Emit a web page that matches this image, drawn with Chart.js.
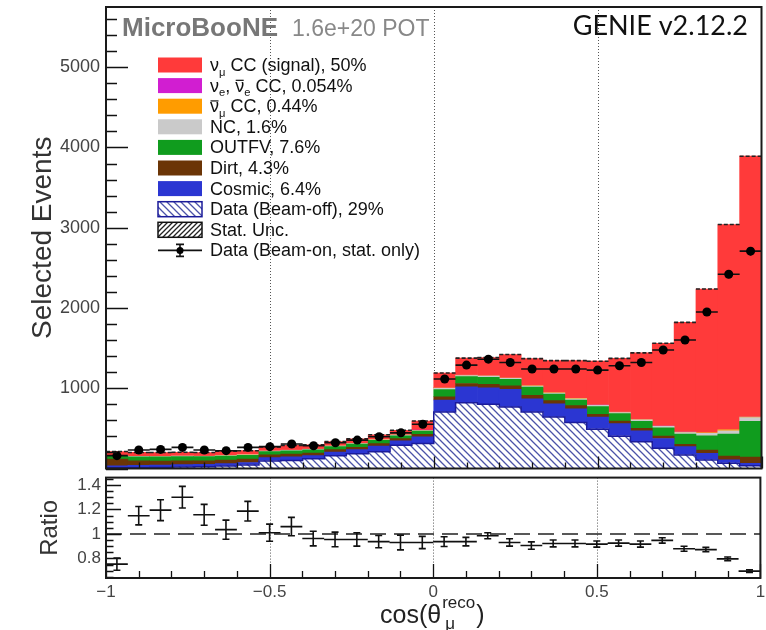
<!DOCTYPE html>
<html>
<head>
<meta charset="utf-8">
<title>cos theta mu reco</title>
<script src="https://cdn.jsdelivr.net/npm/chart.js@4.4.1/dist/chart.umd.min.js"></script>
<style>
  body { margin: 0; background: #fff; }
  .pane { position: absolute; left: 0; }
</style>
</head>
<body>
<canvas id="main" class="pane" width="766" height="473" style="top:0"></canvas>
<canvas id="ratio" class="pane" width="766" height="158" style="top:472px"></canvas>
<script>
// Selected events vs reconstructed cos(theta_mu), stacked prediction + beam-on data

const binEdges = [-1, -0.9333, -0.8667, -0.8, -0.7333, -0.6667, -0.6, -0.5333, -0.4667, -0.4, -0.3333,
  -0.2667, -0.2, -0.1333, -0.0667, 0, 0.0667, 0.1333, 0.2, 0.2667, 0.3333, 0.4, 0.4667, 0.5333,
  0.6, 0.6667, 0.7333, 0.8, 0.8667, 0.9333, 1];
const countTicks = [1000, 2000, 3000, 4000, 5000];
const ratioTicks = [0.8, 1, 1.2, 1.4];
const cosTicks = [-1, -0.5, 0, 0.5, 1];
const gridCos = [-0.5, 0, 0.5];

// stack, bottom to top
const beamOff = [8, 10, 12, 18, 22, 30, 45, 95, 100, 120, 160, 185, 210, 290, 310,
  704, 819, 800, 765, 704, 642, 572, 490, 403, 333, 251, 169, 107, 66, 33];
const cosmic = [25, 30, 30, 30, 30, 30, 30, 40, 45, 40, 45, 50, 70, 55, 85,
  150, 200, 205, 220, 164, 164, 173, 150, 157, 136, 123, 103, 82, 41, 30];
const dirt = [85, 55, 50, 48, 45, 45, 42, 35, 35, 32, 30, 30, 30, 28, 30,
  40, 40, 45, 45, 45, 40, 38, 35, 30, 30, 30, 30, 41, 49, 80];
const outFV = [35, 50, 52, 52, 50, 50, 48, 40, 40, 40, 38, 38, 40, 35, 40,
  90, 85, 85, 80, 100, 80, 70, 95, 93, 89, 102, 126, 177, 272, 445];
const nc = [6, 6, 6, 6, 6, 6, 6, 6, 7, 7, 7, 8, 8, 8, 9,
  15, 15, 15, 15, 15, 15, 15, 16, 15, 17, 18, 20, 30, 41, 46];
const numuBar = [2, 2, 2, 2, 2, 2, 2, 2, 2, 2, 2, 2, 3, 3, 3,
  5, 5, 5, 5, 5, 5, 5, 5, 5, 6, 6, 7, 10, 17, 10];
const nueCC = [0, 0, 0, 0, 0, 0, 0, 0, 0, 0, 0, 0, 0, 0, 1,
  1, 1, 1, 1, 1, 1, 1, 1, 1, 1, 1, 1, 1, 1, 2];
const numuCC = [51, 47, 47, 46, 44, 51, 49, 51, 59, 54, 54, 58, 60, 58, 114,
  185, 210, 227, 289, 335, 397, 470, 545, 668, 829, 1029, 1365, 1788, 2553, 3245];

// beam-on data
const dataOn = [160, 230, 238, 263, 230, 222, 263, 272, 305, 284, 321, 354, 395, 444, 551,
  1115, 1288, 1362, 1321, 1239, 1239, 1239, 1226, 1280, 1321, 1477, 1601, 1950, 2420, 2708];
const dataOnErr = [13, 15, 15, 16, 15, 15, 16, 17, 18, 17, 18, 19, 20, 21, 24,
  34, 36, 37, 37, 36, 36, 36, 36, 36, 37, 39, 40, 45, 50, 53];

// data / prediction
const ratio = [0.753, 1.149, 1.194, 1.30, 1.156, 1.035, 1.186, 1.01, 1.06, 0.962, 0.955, 0.955, 0.937, 0.93, 0.93,
  0.937, 0.937, 0.985, 0.93, 0.905, 0.922, 0.922, 0.917, 0.925, 0.917, 0.947, 0.879, 0.872, 0.796, 0.696];
const ratioErr = [0.05, 0.075, 0.085, 0.088, 0.085, 0.078, 0.08, 0.07, 0.075, 0.06, 0.06, 0.055, 0.05, 0.06, 0.05,
  0.04, 0.035, 0.025, 0.03, 0.03, 0.028, 0.028, 0.025, 0.025, 0.025, 0.022, 0.02, 0.018, 0.015, 0.01];

const FONT = '"Liberation Sans", Arial, Helvetica, sans-serif';
const COLORS = {
  numuCC: '#ff3a3a',
  nueCC: '#d11ed1',
  numuBar: '#ff9c00',
  nc: '#cacaca',
  outFV: '#109c1e',
  dirt: '#6b3506',
  cosmic: '#2b36d2',
  hatch: '#4b53a8',
  beamOffLine: '#1b1b9a'
};

Chart.defaults.font.family = FONT;
Chart.defaults.animation = false;

const binLo = binEdges.slice(0, -1);
const binHi = binEdges.slice(1);
const binMid = binLo.map((lo, i) => (lo + binHi[i]) / 2);
const stackParts = [beamOff, cosmic, dirt, outFV, nc, numuBar, nueCC, numuCC];
const mcTotal = binMid.map((_, i) => stackParts.reduce((s, arr) => s + arr[i], 0));

function hatch(color, down, size) {
  const c = document.createElement('canvas');
  c.width = size; c.height = size;
  const g = c.getContext('2d');
  g.fillStyle = '#fff';
  g.fillRect(0, 0, size, size);
  g.strokeStyle = color;
  g.lineWidth = 1.3;
  g.beginPath();
  for (let k = -1; k <= 1; k++) {
    if (down) { g.moveTo(k * size - 1, -1); g.lineTo(k * size + size + 1, size + 1); }
    else { g.moveTo(k * size - 1, size + 1); g.lineTo(k * size + size + 1, -1); }
  }
  g.stroke();
  return g.createPattern(c, 'repeat');
}
const beamOffFill = hatch(COLORS.hatch, true, 7);
const statFill = hatch('#222', false, 5);

// line helpers: steps, flat segments and vertical error segments
function stepLine(vals) {
  const pts = [];
  vals.forEach((v, i) => pts.push({ x: binLo[i], y: v }, { x: binHi[i], y: v }));
  return pts;
}
function flatBars(vals) {
  const pts = [];
  vals.forEach((v, i) => pts.push({ x: binLo[i], y: v }, { x: binHi[i], y: v }, { x: binHi[i], y: null }));
  return pts;
}
function vBars(vals, errs) {
  const pts = [];
  vals.forEach((v, i) => pts.push({ x: binMid[i], y: v - errs[i] }, { x: binMid[i], y: v + errs[i] }, { x: binMid[i], y: null }));
  return pts;
}

const rootFrame = {
  id: 'rootFrame',
  beforeDatasetsDraw(chart) {
    const { ctx, chartArea: a } = chart;
    const xs = chart.scales.xl;
    ctx.save();
    ctx.strokeStyle = '#555';
    ctx.lineWidth = 1;
    ctx.setLineDash([1, 2]);
    gridCos.forEach(v => {
      const px = Math.round(xs.getPixelForValue(v)) + 0.5;
      ctx.beginPath();
      ctx.moveTo(px, a.top);
      ctx.lineTo(px, a.bottom);
      ctx.stroke();
    });
    ctx.restore();
  },
  afterDatasetsDraw(chart, args, o) {
    const { ctx, chartArea: a } = chart;
    const xs = chart.scales.xl, ys = chart.scales[o.yId];
    const each = (min, max, minor, major, fn) => {
      for (let k = Math.ceil(min / minor - 1e-9); k * minor <= max + 1e-9; k++) {
        const v = k * minor, r = v / major;
        fn(v, Math.abs(r - Math.round(r)) < 1e-6);
      }
    };
    ctx.save();
    ctx.strokeStyle = '#111';
    ctx.lineWidth = 1.3;
    ctx.beginPath();
    each(ys.min, ys.max, o.yMinor, o.yMajor, (v, big) => {
      const py = Math.round(ys.getPixelForValue(v)) + 0.5;
      ctx.moveTo(a.left, py);
      ctx.lineTo(a.left + (big ? o.yLen : o.yLen / 2), py);
    });
    each(-1, 1, 0.1, 0.5, (v, big) => {
      const px = Math.round(xs.getPixelForValue(v)) + 0.5;
      ctx.moveTo(px, a.bottom);
      ctx.lineTo(px, a.bottom - (big ? o.xLen : o.xLen / 2));
    });
    ctx.stroke();
    ctx.lineWidth = 2;
    ctx.strokeStyle = '#1a1a1a';
    ctx.strokeRect(a.left, a.top, a.right - a.left, a.bottom - a.top);
    ctx.restore();
  }
};

function drawRich(ctx, x, y, parts, size) {
  parts.forEach(([t, kind]) => {
    const s = kind === 'sub' ? size * 0.62 : size;
    ctx.font = s + 'px ' + FONT;
    const w = ctx.measureText(t).width;
    ctx.fillText(t, x, kind === 'sub' ? y + size * 0.25 : y);
    if (kind === 'bar') ctx.fillRect(x + 0.5, y - size * 0.66, w - 1, 1.2);
    x += w;
  });
  return x;
}

const legendRows = [
  { kind: 'fill', color: COLORS.numuCC, text: [['ν'], ['μ', 'sub'], [' CC (signal), 50%']] },
  { kind: 'fill', color: COLORS.nueCC, text: [['ν'], ['e', 'sub'], [', '], ['ν', 'bar'], ['e', 'sub'], [' CC, 0.054%']] },
  { kind: 'fill', color: COLORS.numuBar, text: [['ν', 'bar'], ['μ', 'sub'], [' CC, 0.44%']] },
  { kind: 'fill', color: COLORS.nc, text: [['NC, 1.6%']] },
  { kind: 'fill', color: COLORS.outFV, text: [['OUTFV, 7.6%']] },
  { kind: 'fill', color: COLORS.dirt, text: [['Dirt, 4.3%']] },
  { kind: 'fill', color: COLORS.cosmic, text: [['Cosmic, 6.4%']] },
  { kind: 'beamoff', text: [['Data (Beam-off), 29%']] },
  { kind: 'stat', text: [['Stat. Unc.']] },
  { kind: 'data', text: [['Data (Beam-on, stat. only)']] }
];

const mainLabels = {
  id: 'mainLabels',
  afterDraw(chart) {
    const ctx = chart.ctx;
    ctx.save();
    ctx.textBaseline = 'alphabetic';
    ctx.font = 'bold 26px ' + FONT;
    ctx.fillStyle = '#777';
    ctx.fillText('MicroBooNE', 122, 36);
    ctx.font = '23px ' + FONT;
    ctx.fillStyle = '#888';
    ctx.fillText('1.6e+20 POT', 292, 36);
    ctx.font = '27px Lato, ' + FONT;
    ctx.fillStyle = '#111';
    ctx.textAlign = 'right';
    ctx.fillText('GENIE v2.12.2', 748, 35);
    ctx.textAlign = 'left';

    const bx = 158, bw = 44, bh = 15;
    legendRows.forEach((row, i) => {
      const cy = 65 + i * 20.6;
      if (row.kind === 'fill') {
        ctx.fillStyle = row.color;
        ctx.fillRect(bx, cy - bh / 2, bw, bh);
      } else if (row.kind === 'beamoff' || row.kind === 'stat') {
        ctx.fillStyle = row.kind === 'beamoff' ? beamOffFill : statFill;
        ctx.fillRect(bx, cy - bh / 2, bw, bh);
        ctx.strokeStyle = row.kind === 'beamoff' ? COLORS.beamOffLine : '#111';
        ctx.lineWidth = 1.5;
        ctx.strokeRect(bx, cy - bh / 2, bw, bh);
      } else {
        ctx.strokeStyle = '#111';
        ctx.lineWidth = 1.6;
        ctx.beginPath();
        ctx.moveTo(bx, cy); ctx.lineTo(bx + bw, cy);
        ctx.moveTo(bx + bw / 2, cy - 6); ctx.lineTo(bx + bw / 2, cy + 6);
        ctx.moveTo(bx + bw / 2 - 4, cy - 6); ctx.lineTo(bx + bw / 2 + 4, cy - 6);
        ctx.moveTo(bx + bw / 2 - 4, cy + 6); ctx.lineTo(bx + bw / 2 + 4, cy + 6);
        ctx.stroke();
        ctx.fillStyle = '#000';
        ctx.beginPath();
        ctx.arc(bx + bw / 2, cy, 3.5, 0, Math.PI * 2);
        ctx.fill();
      }
      ctx.fillStyle = '#111';
      drawRich(ctx, 210, cy + 6, row.text, 18);
    });
    ctx.restore();
  }
};

const ratioLabels = {
  id: 'ratioLabels',
  afterDraw(chart) {
    const ctx = chart.ctx;
    ctx.save();
    ctx.fillStyle = '#222';
    ctx.textBaseline = 'alphabetic';
    ctx.font = '25px ' + FONT;
    ctx.fillText('cos(θ', 380, 151);
    let x = 380 + ctx.measureText('cos(θ').width + 1;
    ctx.font = '17px ' + FONT;
    ctx.fillText('reco', x, 136);
    const supW = ctx.measureText('reco').width;
    ctx.fillText('μ', x + 3, 157);
    ctx.font = '25px ' + FONT;
    ctx.fillText(')', x + supW + 1, 151);
    ctx.restore();
  }
};

// grouped: false keeps every bar at the full bin width, stacking still adds them up
const bar = (label, values, color) => ({
  label, data: values, backgroundColor: color, borderWidth: 0, xAxisID: 'x', yAxisID: 'y',
  stack: 'mc', grouped: false, barPercentage: 1, categoryPercentage: 1, order: 1
});
const line = (label, data, extra) => Object.assign({
  type: 'line', label, data, xAxisID: 'xl', yAxisID: 'yv',
  pointRadius: 0, borderWidth: 1.6, borderColor: '#111', fill: false, spanGaps: false
}, extra);

const yMax = 5750;

new Chart(document.getElementById('main'), {
  type: 'bar',
  data: {
    labels: binMid.map(v => v.toFixed(3)),
    datasets: [
      bar('Data (Beam-off)', beamOff, beamOffFill),
      bar('Cosmic', cosmic, COLORS.cosmic),
      bar('Dirt', dirt, COLORS.dirt),
      bar('OUTFV', outFV, COLORS.outFV),
      bar('NC', nc, COLORS.nc),
      bar('anti-numu CC', numuBar, COLORS.numuBar),
      bar('nue CC', nueCC, COLORS.nueCC),
      bar('numu CC', numuCC, COLORS.numuCC),
      line('beam-off outline', stepLine(beamOff), { borderColor: COLORS.beamOffLine, borderWidth: 1.5, order: 0 }),
      line('Stat. Unc.', flatBars(mcTotal), { borderColor: '#222', borderWidth: 1.6, borderDash: [4, 2], order: 0 }),
      line('data x-err', flatBars(dataOn), { order: -1 }),
      line('data y-err', vBars(dataOn, dataOnErr), { order: -1 }),
      line('Data (Beam-on)', dataOn.map((v, i) => ({ x: binMid[i], y: v })), {
        showLine: false, pointRadius: 4.5, pointBackgroundColor: '#000', pointBorderWidth: 0, order: -2
      })
    ]
  },
  options: {
    responsive: false,
    events: [],
    layout: { padding: { left: 0, right: 2, top: 7, bottom: 1 } },
    plugins: {
      legend: { display: false },
      tooltip: { enabled: false },
      rootFrame: { yId: 'y', yMajor: 1000, yMinor: 200, yLen: 22, xLen: 12 }
    },
    scales: {
      x: { display: false, stacked: true, offset: true },
      y: {
        stacked: true, min: 0, max: yMax,
        afterBuildTicks: s => { s.ticks = countTicks.map(v => ({ value: v })); },
        afterFit: s => { s.width = 106; s.paddingTop = 0; s.paddingBottom = 0; },
        grid: { display: false, drawTicks: false },
        border: { display: false },
        ticks: { padding: 6, color: '#444', font: { size: 18 }, callback: v => String(v) },
        title: { display: true, text: 'Selected Events', color: '#333', font: { size: 28 }, padding: { top: 26, bottom: 0 } }
      },
      xl: { type: 'linear', display: false, offset: false, min: -1, max: 1, grid: { offset: false } },
      yv: { display: false, min: 0, max: yMax }
    }
  },
  plugins: [rootFrame, mainLabels]
});

new Chart(document.getElementById('ratio'), {
  type: 'line',
  data: {
    datasets: [
      { label: 'unity', data: [{ x: -1, y: 1 }, { x: 1, y: 1 }], xAxisID: 'xl', yAxisID: 'y',
        borderColor: '#222', borderWidth: 1.5, borderDash: [16, 8], pointRadius: 0, order: 1 },
      { label: 'ratio x-err', data: flatBars(ratio), xAxisID: 'xl', yAxisID: 'y',
        borderColor: '#111', borderWidth: 1.6, pointRadius: 0, spanGaps: false, order: 0 },
      { label: 'ratio y-err', data: vBars(ratio, ratioErr), xAxisID: 'xl', yAxisID: 'y',
        borderColor: '#111', borderWidth: 1.6, pointRadius: 0, spanGaps: false, order: 0 },
      { label: 'ratio caps', data: ratio.flatMap((v, i) => [{ x: binMid[i], y: v - ratioErr[i] }, { x: binMid[i], y: v + ratioErr[i] }]),
        xAxisID: 'xl', yAxisID: 'y', showLine: false, pointStyle: 'line', pointRadius: 3.5,
        pointBorderColor: '#111', pointBorderWidth: 1.6, order: 0 }
    ]
  },
  options: {
    responsive: false,
    events: [],
    layout: { padding: { left: 0, right: 2, top: 0, bottom: 0 } },
    plugins: {
      legend: { display: false },
      tooltip: { enabled: false },
      rootFrame: { yId: 'y', yMajor: 0.2, yMinor: 0.05, yLen: 15, xLen: 14 }
    },
    scales: {
      xl: {
        type: 'linear', min: -1, max: 1,
        afterBuildTicks: s => { s.ticks = cosTicks.map(v => ({ value: v })); },
        afterFit: s => { s.height = 52; s.paddingLeft = 0; s.paddingRight = 0; },
        grid: { display: false, drawTicks: false },
        border: { display: false },
        ticks: { padding: 4, color: '#444', font: { size: 17 }, maxRotation: 0, autoSkip: false,
          callback: v => (v < 0 ? '\u2212' + (-v) : String(v)) }
      },
      y: {
        min: 0.64, max: 1.46,
        afterBuildTicks: s => { s.ticks = ratioTicks.map(v => ({ value: v })); },
        afterFit: s => { s.width = 106; s.paddingTop = 0; s.paddingBottom = 0; },
        grid: { display: false, drawTicks: false },
        border: { display: false },
        ticks: { padding: 5, color: '#444', font: { size: 17 }, callback: v => String(v) },
        title: { display: true, text: 'Ratio', color: '#333', font: { size: 24 }, padding: { top: 36, bottom: 0 } }
      }
    }
  },
  plugins: [rootFrame, ratioLabels]
});
</script>
</body>
</html>
